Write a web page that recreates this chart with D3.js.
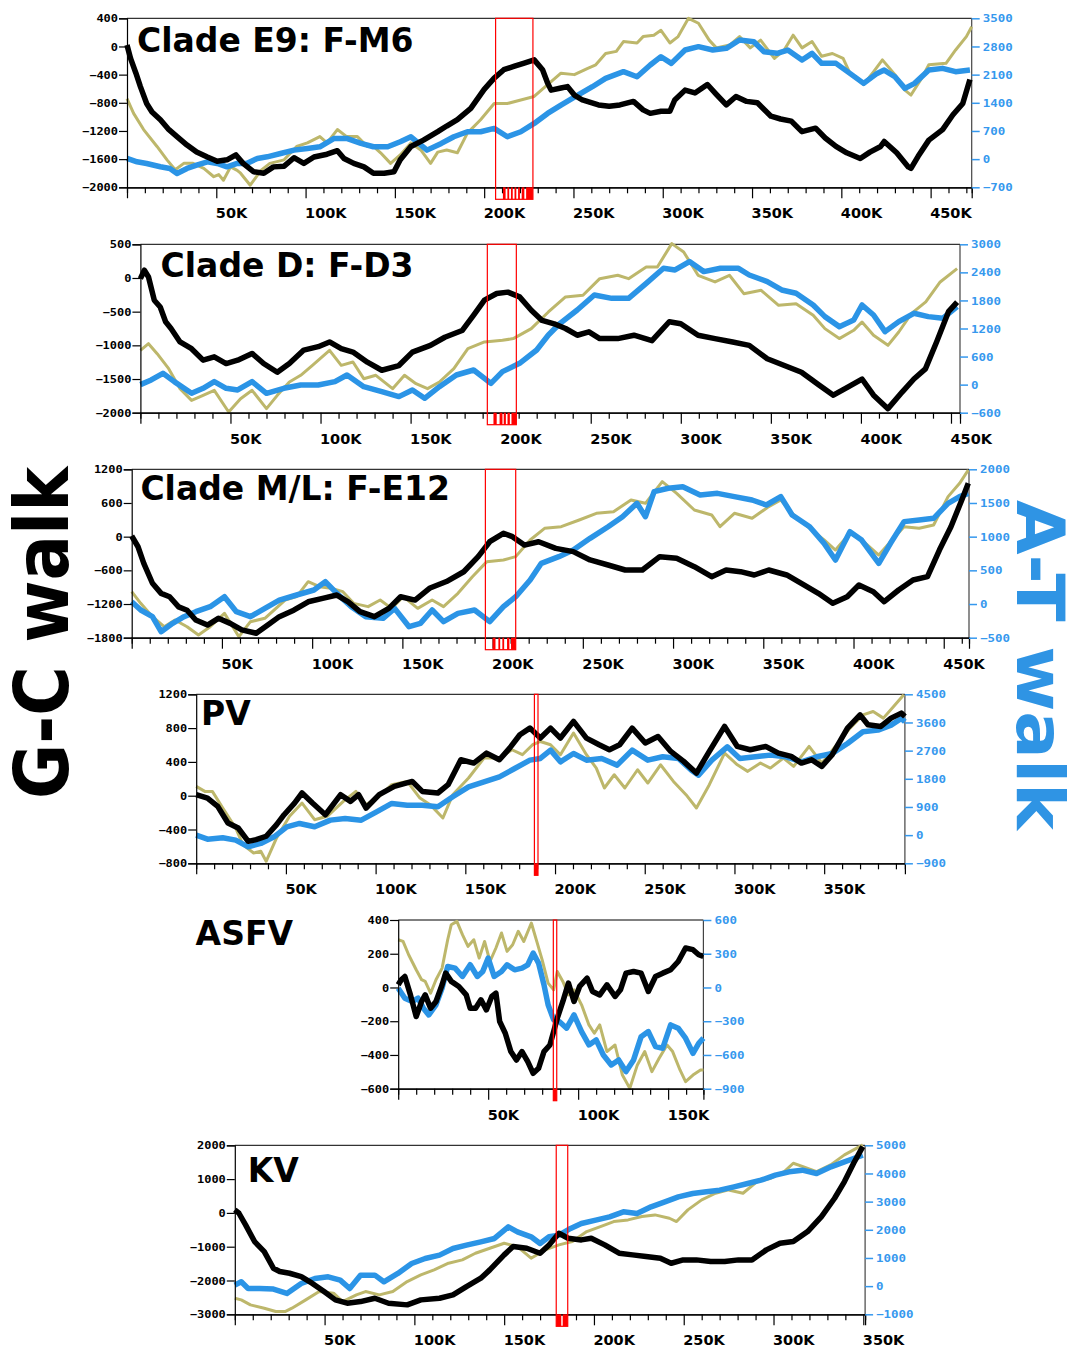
<!DOCTYPE html>
<html><head><meta charset="utf-8">
<script src="https://cdn.jsdelivr.net/npm/d3@7"></script>
<style>
body{margin:0;background:#fff;}
svg{display:block;}
</style></head><body>
<svg id="chart" width="1080" height="1349"></svg>
<script>
// ---------------- DATA (x in kb, y in walk units) ----------------
const titles = ["Clade E9: F-M6", "Clade D: F-D3", "Clade M/L: F-E12", "PV", "ASFV", "KV"];
const leftLabel = "G-C walk";
const rightLabel = "A-T walk";

const leftTicks = [
  [400, 0, -400, -800, -1200, -1600, -2000],
  [500, 0, -500, -1000, -1500, -2000],
  [1200, 600, 0, -600, -1200, -1800],
  [1200, 800, 400, 0, -400, -800],
  [400, 200, 0, -200, -400, -600],
  [2000, 1000, 0, -1000, -2000, -3000]
];
const rightTicks = [
  [3500, 2800, 2100, 1400, 700, 0, -700],
  [3000, 2400, 1800, 1200, 600, 0, -600],
  [2000, 1500, 1000, 500, 0, -500],
  [4500, 3600, 2700, 1800, 900, 0, -900],
  [600, 300, 0, -300, -600, -900],
  [5000, 4000, 3000, 2000, 1000, 0, -1000]
];
const genomeLength = [473, 455, 464, 395, 169.6, 351];
const xLabelTicks = [
  [50,100,150,200,250,300,350,400,450],
  [50,100,150,200,250,300,350,400,450],
  [50,100,150,200,250,300,350,400,450],
  [50,100,150,200,250,300,350],
  [50,100,150],
  [50,100,150,200,250,300,350]
];

// highlighted regions [start,end] and gene stripes below the axis
const regions = [[206.4, 227.3], [192.6, 208.7], [196, 212.8], [188.5, 190.5], [86.2, 88.1], [179, 185.4]];
const regionGenes = [
  [[210.5,212],[213,214],[215,216],[217,218],[219,220],[221,222.5],[223.5,227.3]],
  [[196,197.8],[199.4,201],[201.7,202.9],[203.8,205.1],[206,208.7]],
  [[200,201.6],[203.2,204.2],[205.4,206.4],[208,209.3],[210.2,212.8]],
  [[188.5,190.5]],
  [[86.2,88.1]],
  [[179,181.8],[182.6,185.4]]
];

// ---- Clade E9 ----
const e9_gc = [[0,20],[2,-170],[5,-380],[7.5,-570],[11,-810],[14,-930],[18.7,-1040],[23,-1170],[28,-1280],[33.6,-1400],[39,-1500],[45,-1570],[50.5,-1630],[56,-1610],[61,-1540],[65,-1660],[71,-1780],[76.6,-1800],[82,-1710],[88,-1700],[93.5,-1580],[99,-1660],[104.7,-1570],[112,-1530],[117.8,-1480],[121.5,-1590],[127,-1660],[132.7,-1710],[138,-1800],[144,-1800],[149.5,-1780],[153,-1610],[159,-1420],[166,-1330],[174,-1210],[179,-1130],[185,-1040],[192.5,-880],[200,-610],[205.6,-450],[211,-330],[217,-280],[222,-240],[228,-190],[232.7,-330],[235.5,-520],[237.5,-620],[243,-590],[246.7,-570],[250.5,-690],[255,-760],[264,-830],[270,-850],[276,-830],[283.6,-780],[289,-900],[293,-950],[299,-920],[304,-920],[306.7,-760],[312.5,-620],[318,-660],[325,-540],[330,-680],[335.6,-830],[341,-710],[347,-780],[353,-800],[360.6,-990],[366,-1030],[372,-1060],[377.9,-1210],[385.6,-1160],[391,-1300],[397,-1420],[403,-1510],[410.6,-1590],[416,-1500],[422,-1420],[424,-1350],[431,-1510],[437.5,-1710],[439,-1730],[443,-1560],[449,-1330],[456.7,-1180],[462.5,-970],[468,-810],[472,-470]];
const e9_at = [[0,17],[5.6,-66],[11,-108],[18.7,-190],[24,-232],[28,-356],[33.6,-232],[39,-150],[45,-66],[50.5,-108],[56,-190],[61.7,-108],[67,-108],[73,17],[78.5,58],[86,141],[93.5,224],[101,265],[108,307],[116,514],[123,514],[131,390],[138,307],[146,307],[153,431],[159,556],[168,224],[176,390],[183,556],[190.6,680],[198,680],[205.6,763],[213,556],[220.5,680],[228,887],[235.5,1136],[243,1344],[251,1551],[260.6,1800],[268,2007],[278,2173],[285.6,2048],[293,2339],[299,2546],[304.8,2380],[312.5,2712],[320,2795],[328,2712],[335.6,2754],[343,2961],[351,2919],[356.7,2670],[364,2629],[370,2712],[378,2463],[383.6,2629],[389,2380],[397,2380],[404.8,2131],[412.5,1883],[420,2131],[424,2214],[430,2048],[435.6,1758],[441,1883],[449,2214],[456.7,2256],[464,2173],[472,2214]];
const e9_pu = [[0,-740],[3.7,-950],[9.3,-1180],[16.8,-1420],[22.4,-1610],[27,-1750],[31.8,-1660],[37,-1660],[43,-1730],[48.6,-1850],[51.4,-1820],[54,-1900],[58,-1710],[61.7,-1760],[63.6,-1800],[69,-1970],[75,-1760],[80,-1660],[88,-1610],[95,-1420],[101,-1370],[108,-1280],[112,-1370],[117.8,-1180],[123,-1280],[129,-1280],[134.6,-1420],[138,-1420],[142,-1510],[147.6,-1660],[153,-1540],[159,-1370],[164.5,-1470],[170,-1660],[174,-1500],[179,-1470],[185,-1510],[190.6,-1230],[198,-1040],[205.6,-810],[213,-810],[220.5,-760],[228,-710],[232,-620],[237.5,-500],[243,-380],[250.5,-400],[258,-310],[262.5,-260],[268,-100],[274,-70],[278,70],[285.6,50],[289,140],[295,160],[299,230],[304,50],[308.6,140],[314.4,400],[320,330],[326,90],[330,-20],[337.5,20],[343,140],[349,-20],[354.8,90],[362.5,-170],[368,-50],[373,160],[378,-20],[383.6,70],[389,-140],[395,-100],[401,-170],[404.8,-380],[412.5,-540],[418,-360],[423,-190],[430,-400],[435.6,-620],[439,-690],[445,-450],[449,-260],[458.6,-240],[464,-50],[470,140],[473,280]];

// ---- Clade D ----
const d_gc = [[0,-10],[2.2,115],[4.5,15],[7.7,-330],[11,-430],[14,-650],[17,-750],[22,-950],[28.4,-1050],[34.8,-1220],[41,-1170],[47.6,-1270],[54,-1220],[62,-1120],[68.4,-1270],[76,-1400],[82.7,-1270],[90.7,-1070],[98.7,-1020],[105,-950],[111.5,-1050],[118,-1100],[126,-1250],[134,-1370],[143.5,-1300],[151,-1100],[161,-1000],[169,-880],[178.6,-780],[185,-550],[191,-330],[197.8,-230],[204,-210],[210.5,-280],[217,-480],[223,-630],[229.7,-680],[236,-750],[242.5,-850],[249,-800],[255,-900],[265,-900],[274,-850],[284,-930],[293.6,-650],[300,-680],[309.6,-850],[319,-900],[328.8,-950],[338,-1000],[348,-1200],[357.5,-1300],[367,-1400],[376.7,-1590],[384.7,-1740],[392.7,-1620],[400.6,-1500],[407,-1740],[415,-1940],[423,-1690],[429.4,-1500],[435.8,-1350],[442,-950],[448.6,-500],[453.4,-360]];
const d_at = [[0,0],[6,100],[12.5,242],[18.8,64],[28.4,-185],[34.8,-78],[41,64],[47.6,-78],[54,-114],[62,64],[70,-185],[79.6,-78],[89,-7],[98.7,-7],[108,64],[114.7,206],[124,-43],[134,-150],[143.5,-256],[151,-114],[157.8,-292],[166,-43],[175.4,206],[185,313],[194.6,28],[201,278],[210.5,456],[220,741],[226.5,1062],[233,1311],[242.5,1596],[252,1917],[261.7,1845],[271,1845],[280.8,2166],[290.4,2487],[296.8,2451],[304.8,2630],[312.8,2416],[322,2487],[332,2487],[338,2344],[348,2202],[356,2024],[364,1953],[373.5,1703],[380,1454],[388,1240],[396,1382],[400.6,1703],[407,1489],[413.4,1133],[421,1347],[429.4,1525],[437.4,1454],[445.4,1418],[453.4,1667]];
const d_pu = [[0,-1074],[4.5,-975],[9.3,-1124],[15.7,-1346],[22,-1643],[28.4,-1817],[34.8,-1742],[41,-1668],[49,-1990],[55.6,-1792],[62,-1668],[70,-1940],[76,-1742],[82.7,-1544],[89,-1445],[95.5,-1297],[105,-1074],[111.5,-1297],[118,-1247],[124,-1495],[130.7,-1445],[140,-1643],[146.6,-1445],[153,-1569],[159.4,-1643],[166,-1544],[174,-1346],[181.8,-1050],[191,-950],[201,-925],[207,-900],[217,-752],[226.5,-505],[236,-282],[245.7,-257],[255,-10],[265,40],[271,-10],[280.8,163],[287,163],[295,510],[301.6,386],[309.6,40],[319,-59],[327,40],[335,-233],[344.6,-183],[354.3,-406],[364,-381],[373.5,-554],[380,-752],[388,-900],[396,-777],[400.6,-653],[407,-851],[415,-1000],[421,-802],[428,-530],[436,-356],[444,-59],[453.4,139]];

// ---- Clade M/L ----
const ml_gc = [[0,12],[3.5,-180],[6.7,-475],[11.5,-830],[16.3,-1010],[21,-1070],[26,-1250],[30.7,-1310],[35.5,-1485],[42,-1575],[48,-1455],[54.6,-1545],[61,-1660],[69,-1720],[75.4,-1575],[81.8,-1425],[89.8,-1310],[97.8,-1160],[105.8,-1100],[113.7,-1040],[120,-1160],[126.5,-1335],[134.5,-1425],[142.5,-1277],[149,-1070],[157,-1130],[165,-920],[174.4,-800],[184,-625],[192,-356],[198.4,-90],[206,60],[211,0],[217.6,-150],[225.5,-90],[235,-208],[244.7,-267],[254,-415],[264,-505],[273.5,-594],[283,-594],[292.6,-356],[302,-386],[311.8,-535],[321.4,-713],[329.4,-594],[337.4,-624],[345,-683],[353,-594],[363,-683],[372.5,-861],[380.5,-1010],[388.5,-1188],[396.5,-1070],[403,-861],[411,-980],[417,-1158],[425,-950],[433,-772],[441,-713],[447.6,-238],[454,178],[460,653],[463.6,950]];
const ml_at = [[0,35],[5,-89],[11.5,-188],[16.3,-411],[22.7,-287],[29,-188],[35.5,-114],[43.5,-40],[51.4,109],[58,-114],[65.8,-188],[73.8,-64],[81.8,59],[91.4,134],[101,208],[107.3,332],[113.7,158],[121.7,-40],[129.7,-188],[139.3,-213],[145.7,-64],[153.7,-337],[160,-287],[166.5,-89],[172.8,-262],[180.8,-139],[190,-89],[198.4,-262],[206,-40],[212.8,109],[220.8,356],[227,604],[236.7,703],[244.7,802],[254,975],[264,1148],[272,1297],[280,1495],[284.7,1297],[289.5,1668],[297.4,1718],[305.4,1742],[315,1619],[324.6,1643],[334,1594],[343.8,1544],[351.7,1470],[359.7,1594],[366,1322],[375.7,1148],[383.7,901],[390,653],[398,1074],[404.5,950],[414,604],[420.5,901],[428,1223],[436.4,1247],[444.4,1272],[452.4,1495],[458.8,1594],[463.6,1643]];
const ml_pu = [[0,-980],[5,-1188],[11.5,-1425],[18,-1604],[24,-1485],[30.7,-1604],[37,-1752],[43.5,-1604],[51.4,-1366],[59.4,-1782],[65.8,-1515],[73.8,-1455],[85,-1129],[91.4,-1069],[97.8,-802],[104,-891],[110.5,-920],[117,-980],[123,-1188],[131,-1247],[137.7,-1129],[144,-1277],[150.5,-1069],[158.5,-1277],[166.5,-1129],[172.8,-1247],[180.8,-1010],[188.8,-713],[196.8,-445],[206,-416],[212.8,-356],[220.8,-59],[228.8,149],[238,178],[248,297],[257.5,416],[267,445],[276.7,653],[284.7,594],[294,980],[302,772],[311.8,475],[321.4,386],[326,178],[334,416],[343.8,327],[353,535],[359.7,653],[366,416],[375.7,149],[383.7,-59],[390,-238],[398,59],[404.5,-59],[414,-327],[420.5,-89],[428,178],[436.4,149],[444.4,208],[452.4,713],[458.8,950],[463.6,1188]];

// ---- PV ----
const pv_gc = [[0,12],[6.3,-28],[12,-126],[17.7,-323],[23.4,-382],[29,-540],[33.4,-520],[39,-480],[44.8,-343],[49,-225],[54.8,-87],[59,32],[64.8,-87],[72,-225],[80.5,12],[86,-67],[90.5,12],[94.7,-146],[102,12],[110.4,110],[120.4,169],[126,51],[134.7,32],[140.4,130],[147.5,425],[154.7,386],[161.8,504],[169,425],[174.7,563],[180.4,721],[186,800],[191.8,682],[197.5,800],[203,682],[210.3,879],[217.5,682],[224.6,603],[230.3,544],[236,603],[243,800],[250.3,623],[257.4,701],[264.5,524],[271.7,406],[278.8,268],[286,524],[294.5,820],[301.6,583],[308.8,544],[317.4,583],[324.5,504],[331.6,465],[337.3,386],[343,425],[348.7,347],[354.5,485],[363,800],[370,957],[374.4,839],[381.6,820],[387.3,918],[393,977],[395,938]];
const pv_at = [[0,0],[6.3,-128],[14.8,-85],[22,-160],[29,-373],[36,-266],[43.4,-53],[50.5,266],[57.6,373],[66,266],[74.8,479],[83,532],[92,479],[100.5,745],[109,1012],[117.6,958],[126,958],[134.7,905],[143,1225],[151.8,1544],[160.4,1704],[169,1864],[177.5,2130],[186,2396],[191.8,2450],[197.5,2716],[203,2343],[210.3,2609],[217.5,2396],[226,2450],[234.6,2237],[243,2716],[251.7,2396],[260,2503],[268.8,2450],[276,2077],[280,1917],[287.4,2396],[296,2822],[303,2450],[311.6,2503],[320,2556],[328.8,2503],[337.3,2343],[345.9,2503],[354.5,2609],[363,2929],[371.6,3302],[380,3355],[387.3,3515],[393,3728],[395,3621]];
const pv_pu = [[0,110],[4.8,51],[9,51],[14.8,-146],[22,-382],[26,-579],[32,-678],[36,-658],[39,-776],[44.8,-500],[52,-244],[59,-87],[66,-284],[73,-244],[82,-67],[89,51],[94.7,-106],[102,-8],[109,130],[117.6,169],[124.7,-28],[130.4,-106],[137.5,-264],[143,12],[151.8,209],[160.4,445],[169,445],[176,544],[181.8,485],[187.5,603],[191.8,642],[197.5,603],[203,485],[210.3,741],[217.5,485],[223,327],[227.5,91],[233,248],[238.9,91],[246,307],[251.7,150],[258.8,366],[266,169],[273,12],[278.8,-146],[286,130],[294.5,504],[301.6,366],[307.4,288],[314.5,386],[320,327],[327.3,445],[333,347],[341.6,583],[348.7,386],[357,603],[364.4,800],[371.6,957],[377.3,997],[383,918],[388.7,1056],[394.4,1194]];

// ---- ASFV ----
const asfv_gc = [[0,16],[1.7,46],[3.7,65],[6.8,-44],[10,-172],[13,-83],[15,-44],[18,-123],[21,-83],[24.4,16],[26.4,85],[29.5,36],[33.7,6],[37.8,-44],[40,-123],[43,-123],[46,-73],[49,-133],[52,-53],[54.3,-34],[56.4,-202],[59.5,-271],[62.6,-380],[65.7,-430],[68.8,-380],[72,-440],[75,-509],[78,-479],[81,-380],[84.3,-341],[86.4,-261],[88.4,-182],[91.5,-83],[94.6,26],[97.7,-83],[100.8,6],[105,55],[108,-24],[112,-44],[116,16],[120.5,-53],[123.5,-14],[126.6,85],[130.8,95],[135,85],[139,-24],[143,65],[147,85],[151.4,105],[155.6,154],[159.7,234],[163.8,224],[167,194],[169.6,184]];
const asfv_at = [[0,-6],[3.7,-95],[7.8,-125],[11,-95],[14,-184],[17,-244],[21,-154],[24.4,-6],[27.5,187],[31.6,172],[35.7,98],[40,202],[44,98],[47,143],[50,261],[53.3,98],[57.4,143],[60.5,202],[64.7,157],[68.8,172],[72,202],[75,306],[78,217],[81,24],[83.3,-154],[86.4,-288],[89.5,-303],[93.6,-362],[97.7,-244],[101.9,-392],[106,-511],[110,-466],[114,-600],[118.4,-689],[122.5,-644],[126.6,-748],[130.8,-644],[135,-437],[139,-392],[143,-526],[147,-540],[151.4,-333],[155.6,-362],[159.7,-451],[163.8,-585],[167,-496],[169.6,-451]];
const asfv_pu = [[0,283],[2.7,273],[5.8,194],[10,105],[13,46],[15,36],[18,-34],[21,46],[24.4,115],[27.5,283],[29.5,372],[32.6,392],[35.7,313],[38.8,244],[42,283],[45,174],[48,273],[51,154],[54.3,234],[57.4,323],[60.5,214],[63.6,253],[66.7,333],[69.8,273],[74,382],[77,273],[80,164],[83.3,26],[86.4,-14],[88.4,95],[91.5,36],[94.6,-44],[97.7,-14],[101.9,-103],[106,-222],[109,-271],[112,-222],[116,-380],[120.5,-341],[124.6,-519],[128.7,-598],[132.9,-459],[137,-380],[141,-499],[145,-420],[149.4,-341],[152.5,-380],[156.6,-489],[159.7,-558],[163.8,-519],[168,-489],[169.6,-489]];

// ---- KV ----
const kv_gc = [[0,89],[2.3,-10],[6,-355],[11,-848],[16.4,-1144],[21.5,-1637],[25,-1735],[30.5,-1785],[37,-1883],[43,-2080],[49.7,-2327],[56,-2573],[62.6,-2672],[70,-2623],[78,-2524],[85.6,-2672],[96,-2721],[103.6,-2573],[114,-2524],[121.5,-2426],[129,-2179],[137,-1933],[142,-1686],[150,-1242],[155,-996],[162.6,-1045],[170,-1193],[175,-947],[180.5,-601],[185.6,-749],[193,-799],[198.5,-749],[206,-947],[214,-1193],[221.5,-1242],[229,-1292],[237,-1341],[243,-1489],[249.7,-1390],[257,-1390],[265,-1440],[272.8,-1440],[280.5,-1390],[288,-1390],[296,-1094],[303.6,-897],[311,-848],[319,-552],[326.7,-108],[334,434],[339.5,927],[344.6,1469],[349.7,1962]];
const kv_at = [[0,35],[3.6,154],[7.4,-83],[13.8,-83],[21.5,-106],[29,-260],[37,95],[44.6,272],[52,331],[58.7,213],[64,-83],[70,390],[78,390],[83,154],[90.8,450],[98.5,804],[106,982],[114,1100],[121.5,1337],[129,1455],[137,1573],[144.6,1692],[152.3,2106],[157.4,1928],[165,1751],[170,1514],[175,1751],[180.5,1810],[187,2047],[193,2224],[201,2342],[208.7,2461],[216.4,2638],[224,2579],[231.8,2816],[239.5,2993],[247,3170],[255,3289],[262.6,3348],[270,3407],[278,3525],[285.6,3644],[293,3762],[301,3939],[308.7,4058],[316,4117],[324,3998],[332,4235],[339.5,4413],[344.6,4531],[349.7,4649]];
const kv_pu = [[0,-2524],[3.6,-2573],[8.7,-2721],[16.4,-2820],[22.8,-2919],[28,-2919],[31.8,-2820],[39.5,-2573],[47,-2327],[55,-2376],[60,-2623],[67.7,-2426],[72.8,-2327],[80.5,-2426],[88,-2327],[96,-2031],[103.6,-1834],[111,-1686],[119,-1489],[126.7,-1390],[134,-1193],[142,-1045],[150,-897],[157.4,-996],[165,-1341],[172.8,-1094],[180.5,-947],[188,-848],[196,-552],[203.6,-404],[211,-256],[219,-207],[226.7,-108],[234,-59],[242,-158],[246,-256],[252.3,89],[260,385],[267.7,582],[275,680],[283,582],[290.8,927],[298.5,1025],[306,1223],[311,1469],[316.4,1371],[324,1223],[331.8,1420],[339.5,1716],[344.6,1864],[349.7,2011]];

const gcSeries = [e9_gc, d_gc, ml_gc, pv_gc, asfv_gc, kv_gc];
const atSeries = [e9_at, d_at, ml_at, pv_at, asfv_at, kv_at];
const puSeries = [e9_pu, d_pu, ml_pu, pv_pu, asfv_pu, kv_pu];

// ---------------- LAYOUT ----------------
const layout = [
  {x0:127,   x1:971.7, y0:18.3,   y1:187.3,  tx:137,   ty:52},
  {x0:140.4, x1:960,   y0:244.3,  y1:412.7,  tx:160.6, ty:276.7},
  {x0:131.7, x1:969,   y0:469.3,  y1:637.7,  tx:140.4, ty:500},
  {x0:196.2, x1:904.9, y0:694.3,  y1:863.3,  tx:201,   ty:725},
  {x0:398.2, x1:703.4, y0:920,    y1:1088.7, tx:195.6, ty:945},
  {x0:234.8, x1:865.1, y0:1145.3, y1:1314.3, tx:247.7, ty:1181.7}
];
const C = {gc:"#000000", at:"#2b94e6", atText:"#3598ee", pu:"#bdb76b", red:"#ff0000"};
const tickFont = "'DejaVu Sans Mono', monospace";
const titleFont = "'DejaVu Sans', 'Noto Sans', sans-serif";

const svg = d3.select("#chart");

layout.forEach((L, i) => {
  const g = svg.append("g");
  const x = d3.scaleLinear().domain([0, genomeLength[i]]).range([L.x0, L.x1]);
  const yL = d3.scaleLinear().domain(d3.extent(leftTicks[i])).range([L.y1, L.y0]);
  const yR = d3.scaleLinear().domain(d3.extent(rightTicks[i])).range([L.y1, L.y0]);

  // frame
  g.append("line").attr("x1", L.x0).attr("x2", L.x1).attr("y1", L.y0).attr("y2", L.y0)
    .attr("stroke", "#000").attr("stroke-width", 1);
  g.append("line").attr("x1", L.x1).attr("x2", L.x1).attr("y1", L.y0).attr("y2", L.y1)
    .attr("stroke", "#444").attr("stroke-width", 1.2);

  // series
  const lineL = d3.line().x(d => x(d[0])).y(d => yL(d[1]));
  const lineR = d3.line().x(d => x(d[0])).y(d => yR(d[1]));
  g.append("path").attr("d", lineL(puSeries[i])).attr("fill", "none")
    .attr("stroke", C.pu).attr("stroke-width", 3).attr("stroke-linejoin", "round");
  g.append("path").attr("d", lineR(atSeries[i])).attr("fill", "none")
    .attr("stroke", C.at).attr("stroke-width", 5.5).attr("stroke-linejoin", "round");
  g.append("path").attr("d", lineL(gcSeries[i])).attr("fill", "none")
    .attr("stroke", C.gc).attr("stroke-width", 5.5).attr("stroke-linejoin", "round");

  // bottom axis: minor & major ticks
  const xmax = genomeLength[i];
  const minor = d3.range(10, xmax, 10).filter(v => v % 50 !== 0);
  const gx1 = g.append("g").attr("transform", `translate(0,${L.y1})`)
    .call(d3.axisBottom(x).tickValues(minor).tickSize(6).tickFormat(""));
  const gx2 = g.append("g").attr("transform", `translate(0,${L.y1})`)
    .call(d3.axisBottom(x).tickValues(xLabelTicks[i]).tickSize(11).tickFormat(d => d + "K"));
  [gx1, gx2].forEach(a => {
    a.select(".domain").attr("stroke", "#000").attr("stroke-width", 1.2);
    a.selectAll(".tick line").attr("stroke", "#000").attr("stroke-width", 1.2);
  });
  gx2.selectAll(".tick text").attr("y", 31).attr("dy", 0).attr("x", -1)
    .attr("text-anchor", "start").attr("fill", "#000")
    .style("font-family", titleFont).style("font-weight", "bold").style("font-size", "14.5px");

  // left axis
  const gl = g.append("g").attr("transform", `translate(${L.x0},0)`)
    .call(d3.axisLeft(yL).tickValues(leftTicks[i]).tickSize(8).tickPadding(1).tickFormat(d3.format("d")));
  gl.select(".domain").attr("stroke", "#000").attr("stroke-width", 1.2);
  gl.selectAll(".tick line").attr("stroke", "#000").attr("stroke-width", 1.2);
  gl.selectAll(".tick text").attr("fill", "#000").attr("dy", "0.36em")
    .style("font-family", tickFont).style("font-weight", "bold").style("font-size", "10px")
    .attr("textLength", d => String(d).length * 7.2).attr("lengthAdjust", "spacingAndGlyphs");

  // right axis
  const gr = g.append("g").attr("transform", `translate(${L.x1},0)`)
    .call(d3.axisRight(yR).tickValues(rightTicks[i]).tickSize(8).tickPadding(3).tickFormat(d3.format("d")));
  gr.select(".domain").remove();
  gr.selectAll(".tick line").attr("stroke", C.atText).attr("stroke-width", 1.5);
  gr.selectAll(".tick text").attr("fill", C.atText).attr("dy", "0.36em")
    .style("font-family", tickFont).style("font-weight", "bold").style("font-size", "10px")
    .attr("textLength", d => String(d).length * 7.5).attr("lengthAdjust", "spacingAndGlyphs");

  // highlighted region
  const r = regions[i];
  const below = 12;
  g.append("rect").attr("x", x(r[0])).attr("y", L.y0)
    .attr("width", Math.max(1, x(r[1]) - x(r[0]))).attr("height", L.y1 - L.y0 + below)
    .attr("fill", "none").attr("stroke", C.red).attr("stroke-width", 1.2);
  g.selectAll(".gene").data(regionGenes[i]).join("rect")
    .attr("x", d => x(d[0])).attr("y", L.y1)
    .attr("width", d => Math.max(1.2, x(d[1]) - x(d[0]))).attr("height", below)
    .attr("fill", C.red);

  // title
  g.append("text").attr("x", L.tx).attr("y", L.ty).text(titles[i])
    .style("font-family", titleFont).style("font-weight", "bold").style("font-size", "33px")
    .attr("fill", "#000");
});

// big side labels
svg.append("text").attr("transform", "translate(67.5,633) rotate(-90)")
  .attr("text-anchor", "middle").text(leftLabel)
  .attr("textLength", 332).attr("lengthAdjust", "spacingAndGlyphs")
  .style("font-family", titleFont).style("font-weight", "bold").style("font-size", "74px")
  .attr("fill", "#000");
svg.append("text").attr("transform", "translate(1017,665) rotate(90)")
  .attr("text-anchor", "middle").text(rightLabel)
  .attr("textLength", 330).attr("lengthAdjust", "spacingAndGlyphs")
  .style("font-family", titleFont).style("font-weight", "bold").style("font-size", "66px")
  .attr("fill", "#2f94e4");
</script>
</body></html>
